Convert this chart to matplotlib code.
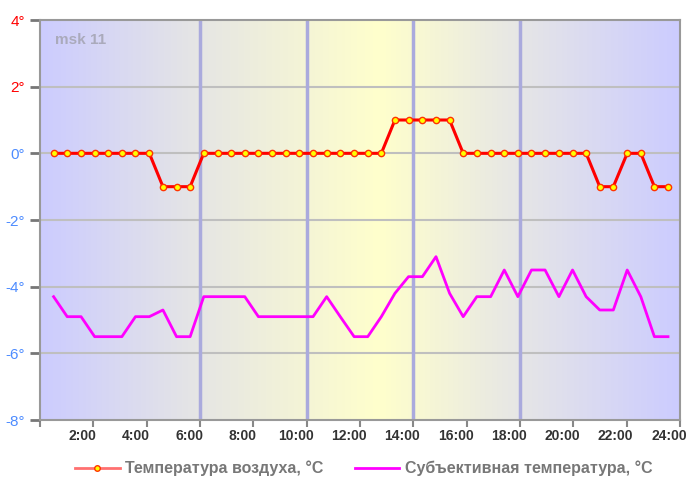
import numpy as np
import matplotlib
matplotlib.use('Agg')
import matplotlib.pyplot as plt
from matplotlib.colors import LinearSegmentedColormap
from matplotlib.lines import Line2D
from matplotlib.transforms import ScaledTranslation

plt.rcParams['font.family'] = ['Liberation Sans', 'DejaVu Sans']

# sample times, hours since midnight
times = [0.51, 1.02, 1.54, 2.05, 2.56, 3.07, 3.58, 4.10, 4.61, 5.12,
         5.63, 6.14, 6.66, 7.17, 7.68, 8.19, 8.70, 9.22, 9.73, 10.24,
         10.75, 11.26, 11.78, 12.29, 12.80, 13.31, 13.82, 14.34, 14.85, 15.36,
         15.87, 16.38, 16.90, 17.41, 17.92, 18.43, 18.94, 19.46, 19.97, 20.48,
         20.99, 21.50, 22.02, 22.53, 23.04, 23.55]
air_temp = [0, 0, 0, 0, 0, 0, 0, 0, -1, -1,
            -1, 0, 0, 0, 0, 0, 0, 0, 0, 0,
            0, 0, 0, 0, 0, 1, 1, 1, 1, 1,
            0, 0, 0, 0, 0, 0, 0, 0, 0, 0,
            -1, -1, 0, 0, -1, -1]
feels_like = [-4.3, -4.9, -4.9, -5.5, -5.5, -5.5, -4.9, -4.9, -4.7, -5.5,
              -5.5, -4.3, -4.3, -4.3, -4.3, -4.9, -4.9, -4.9, -4.9, -4.9,
              -4.3, -4.9, -5.5, -5.5, -4.9, -4.2, -3.7, -3.7, -3.1, -4.2,
              -4.9, -4.3, -4.3, -3.5, -4.3, -3.5, -3.5, -4.3, -3.5, -4.3,
              -4.7, -4.7, -3.5, -4.3, -5.5, -5.5]
xticks = [2, 4, 6, 8, 10, 12, 14, 16, 18, 20, 22, 24]
xlabels = ['2:00', '4:00', '6:00', '8:00', '10:00', '12:00', '14:00',
           '16:00', '18:00', '20:00', '22:00', '24:00']
yticks = [-8, -6, -4, -2, 0, 2, 4]
ylabels = ['-8°', '-6°', '-4°', '-2°', '0°', '2°', '4°']
sep_hours = [6, 10, 14, 18]
station = 'msk 11'
legend_labels = ['Температура воздуха, °C', 'Субъективная температура, °C']

W, H = 687, 487
fig = plt.figure(figsize=(W/100, H/100), dpi=100)
ax = fig.add_axes([40/W, 1-420/H, 640/W, 400/H])

# background: night blue -> grey -> noon yellow -> grey -> blue
bg = LinearSegmentedColormap.from_list('daylight', [
    (0.0, '#ccccff'), (6/24, '#e6e6e4'), (12.75/24, '#ffffcc'),
    (18/24, '#e6e6e6'), (1.0, '#ccccff')])
ax.imshow(np.linspace(0, 1, 400)[None, :], cmap=bg, aspect='auto',
          extent=[0, 24, -8, 4], zorder=0)

for y in yticks[1:-1]:
    ax.axhline(y, color='#bfbfbf', lw=1.5, zorder=1)
for h in sep_hours:
    ax.axvline(h, color='#aaaadd', lw=2.5, zorder=1)

ax.plot(times, feels_like, color='#ff00ff', lw=2, zorder=3)
ax.plot(times, air_temp, color='#ff0000', lw=2.2, zorder=4,
        marker='o', ms=4.5, mfc='#ffff00', mec='#ff3300', mew=1)

ax.set_xlim(0, 24)
ax.set_ylim(-8, 4)
ax.set_xticks([0] + xticks)
ax.set_xticklabels([])
# hour labels sit a little left of their ticks
off = ScaledTranslation(-11/100, -16/100, fig.dpi_scale_trans)
for x, lab in zip(xticks, xlabels):
    ax.text(x, 0, lab, transform=ax.get_xaxis_transform() + off,
            ha='center', va='center', fontsize=10, fontweight='bold',
            color='#333333')
ax.set_yticks(yticks)
ax.set_yticklabels(ylabels, fontsize=11)
for lab, v in zip(ax.get_yticklabels(), yticks):
    lab.set_color('#ff0000' if v > 0 else '#4d8cff')
ax.tick_params(axis='y', length=7, width=2, color='#777777', pad=4)
ax.tick_params(axis='x', length=5, width=1.5, color='#888888')
for s in ax.spines.values():
    s.set_color('#999999')
    s.set_linewidth(1.5)

ax.text(0.56, 3.4, station, fontsize=11, fontweight='bold', color='#aaaabb',
        ha='left', va='center', zorder=5)

# legend drawn by hand in figure pixels
ly = 1 - 468/H
fig.add_artist(Line2D([75/W, 120/W], [ly, ly], color='#ff7070', lw=2))
fig.add_artist(Line2D([97/W], [ly], marker='o', ms=4, mfc='#ffff00',
                      mec='#ff3300', lw=0))
fig.add_artist(Line2D([355/W, 399/W], [ly, ly], color='#ff00ff', lw=2))
fig.text(125/W, ly, legend_labels[0], fontsize=11.5, fontweight='bold',
         color='#777777', va='center', ha='left')
fig.text(405/W, ly, legend_labels[1], fontsize=11.5, fontweight='bold',
         color='#777777', va='center', ha='left')

fig.savefig('out.png', dpi=100)
